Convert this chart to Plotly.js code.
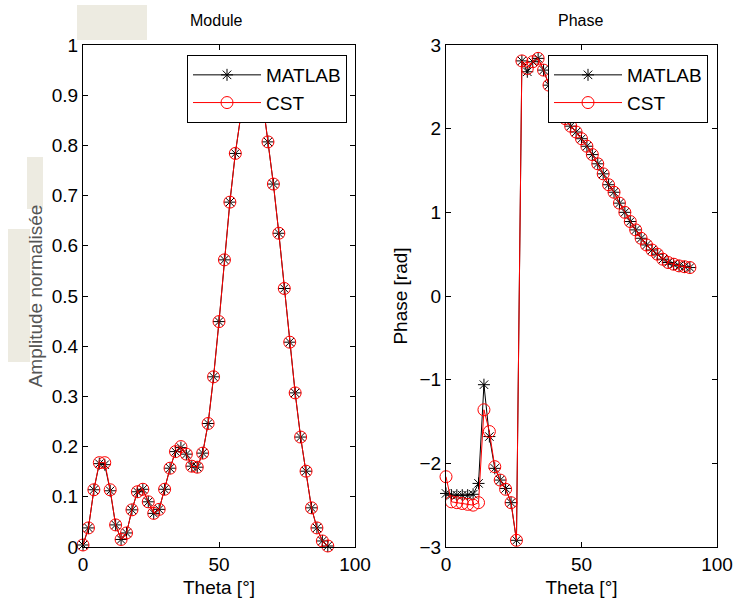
<!DOCTYPE html>
<html>
<head>
<meta charset="utf-8">
<script src="https://cdn.plot.ly/plotly-3.0.1.min.js"></script>
<style>
  html, body { margin: 0; padding: 0; background: #ffffff; }
  #chart { width: 734px; height: 601px; }
</style>
</head>
<body>
<div id="chart"></div>
<script>
// ---------------- data ----------------
const theta = [0, 2, 4, 6, 8, 10, 12, 14, 16, 18, 20, 22, 24, 26, 28, 30, 32, 34, 36, 38,
               40, 42, 44, 46, 48, 50, 52, 54, 56, 58, 60, 62, 64, 66, 68, 70, 72, 74, 76, 78,
               80, 82, 84, 86, 88, 90];

const moduleMatlab = [0.004, 0.038, 0.114, 0.166, 0.164, 0.112, 0.044, 0.015, 0.028, 0.074,
                      0.110, 0.115, 0.090, 0.067, 0.075, 0.115, 0.157, 0.190, 0.198, 0.185,
                      0.161, 0.159, 0.187, 0.246, 0.339, 0.449, 0.572, 0.687, 0.784, 0.859,
                      0.915, 0.950, 0.940, 0.890, 0.807, 0.723, 0.625, 0.515, 0.408, 0.307,
                      0.219, 0.151, 0.078, 0.038, 0.012, 0.002];

const moduleCst = [0.004, 0.038, 0.114, 0.168, 0.168, 0.114, 0.044, 0.015, 0.028, 0.074,
                   0.110, 0.115, 0.090, 0.067, 0.075, 0.115, 0.157, 0.190, 0.200, 0.185,
                   0.161, 0.159, 0.187, 0.246, 0.339, 0.449, 0.572, 0.687, 0.784, 0.859,
                   0.915, 0.950, 0.940, 0.890, 0.807, 0.723, 0.625, 0.515, 0.408, 0.307,
                   0.219, 0.151, 0.078, 0.038, 0.012, 0.002];

const phaseMatlab = [-2.36, -2.38, -2.38, -2.38, -2.38, -2.37, -2.24, -1.06, -1.68, -2.06,
                     -2.20, -2.30, -2.47, -2.92, 2.81, 2.68, 2.80, 2.84, 2.70, 2.52,
                     2.38, 2.22, 2.12, 2.03, 1.96, 1.88, 1.79, 1.69, 1.58, 1.46,
                     1.33, 1.24, 1.11, 1.00, 0.89, 0.79, 0.69, 0.61, 0.55, 0.50,
                     0.44, 0.40, 0.38, 0.36, 0.35, 0.34];

const phaseCst = [-2.16, -2.46, -2.47, -2.48, -2.49, -2.50, -2.47, -1.36, -1.62, -2.04,
                  -2.20, -2.31, -2.47, -2.92, 2.81, 2.72, 2.80, 2.84, 2.70, 2.52,
                  2.38, 2.22, 2.12, 2.03, 1.96, 1.88, 1.79, 1.69, 1.58, 1.46,
                  1.33, 1.24, 1.11, 1.00, 0.89, 0.79, 0.69, 0.61, 0.55, 0.50,
                  0.44, 0.40, 0.38, 0.36, 0.35, 0.34];

const seriesNames = ["MATLAB", "CST"];
const panelTitles = ["Module", "Phase"];
const xTitle = "Theta [°]";
const yTitles = ["Amplitude normalisée", "Phase [rad]"];

// ---------------- layout helpers ----------------
const W = 734, H = 601;
const px = v => v / W;          // pixel -> paper x
const py = v => 1 - v / H;      // pixel -> paper y
const FONT = "Liberation Sans, Arial, Helvetica, sans-serif";

const matlabStyle = {
  mode: "lines+markers",
  line: {color: "#000000", width: 1},
  marker: {symbol: "asterisk-open", size: 10, color: "#000000", line: {color: "#000000", width: 1}},
  cliponaxis: false
};
const cstStyle = {
  mode: "lines+markers",
  line: {color: "#ff0000", width: 1},
  marker: {symbol: "circle-open", size: 12, color: "#ff0000", line: {color: "#ff0000", width: 1}},
  cliponaxis: false
};

const traces = [
  Object.assign({x: theta, y: moduleMatlab, name: seriesNames[0], xaxis: "x", yaxis: "y", legend: "legend"}, matlabStyle),
  Object.assign({x: theta, y: moduleCst, name: seriesNames[1], xaxis: "x", yaxis: "y", legend: "legend"}, cstStyle),
  Object.assign({x: theta, y: phaseMatlab, name: seriesNames[0], xaxis: "x2", yaxis: "y2", legend: "legend2"}, matlabStyle),
  Object.assign({x: theta, y: phaseCst, name: seriesNames[1], xaxis: "x2", yaxis: "y2", legend: "legend2"}, cstStyle)
];

const axisCommon = {
  showline: true, linecolor: "#000000", linewidth: 1,
  mirror: "ticks", ticks: "inside", ticklen: 5, tickwidth: 1, tickcolor: "#000000",
  showgrid: false, zeroline: false,
  tickfont: {family: FONT, size: 19, color: "#000000"}
};

const yDomain = [py(547), py(45)];

const legendCommon = {
  y: py(55), yanchor: "top", xanchor: "right",
  bgcolor: "#ffffff", bordercolor: "#000000", borderwidth: 1,
  font: {family: FONT, size: 19, color: "#000000"}, tracegroupgap: 0,
  itemwidth: 68
};

const layout = {
  width: W, height: H,
  margin: {l: 0, r: 0, t: 0, b: 0},
  paper_bgcolor: "#ffffff", plot_bgcolor: "#ffffff",
  font: {family: FONT, size: 19, color: "#000000"},
  xaxis: Object.assign({}, axisCommon, {
    domain: [px(83), px(355)], range: [0, 100], tickvals: [0, 50, 100], anchor: "y",
    title: {text: xTitle, font: {family: FONT, size: 19, color: "#000000"}, standoff: 6}
  }),
  yaxis: Object.assign({}, axisCommon, {
    domain: yDomain, range: [0, 1], dtick: 0.1, tick0: 0, anchor: "x",
    title: {text: yTitles[0], font: {family: FONT, size: 19, color: "#555555"}, standoff: 4}
  }),
  xaxis2: Object.assign({}, axisCommon, {
    domain: [px(446), px(717)], range: [0, 100], tickvals: [0, 50, 100], anchor: "y2",
    title: {text: xTitle, font: {family: FONT, size: 19, color: "#000000"}, standoff: 6}
  }),
  yaxis2: Object.assign({}, axisCommon, {
    domain: yDomain, range: [-3, 3], dtick: 1, tick0: 0, anchor: "x2",
    title: {text: yTitles[1], font: {family: FONT, size: 19, color: "#000000"}, standoff: 6}
  }),
  legend: Object.assign({}, legendCommon, {x: px(347)}),
  legend2: Object.assign({}, legendCommon, {x: px(708)}),
  annotations: [
    {text: panelTitles[0], xref: "paper", yref: "paper", x: px(216), y: py(21),
     xanchor: "center", yanchor: "middle", showarrow: false,
     font: {family: FONT, size: 16, color: "#000000"}},
    {text: panelTitles[1], xref: "paper", yref: "paper", x: px(580), y: py(21),
     xanchor: "center", yanchor: "middle", showarrow: false,
     font: {family: FONT, size: 16, color: "#000000"}}
  ],
  shapes: [
    {type: "rect", xref: "paper", yref: "paper", x0: px(77), x1: px(147), y0: py(40), y1: py(5),
     fillcolor: "#edebe1", line: {width: 0}, layer: "below"},
    {type: "rect", xref: "paper", yref: "paper", x0: px(27), x1: px(43), y0: py(209), y1: py(157),
     fillcolor: "#edebe1", line: {width: 0}, layer: "below"},
    {type: "rect", xref: "paper", yref: "paper", x0: px(8), x1: px(30), y0: py(362), y1: py(229),
     fillcolor: "#edebe1", line: {width: 0}, layer: "below"}
  ]
};

Plotly.newPlot("chart", traces, layout, {staticPlot: true, displayModeBar: false});
</script>
</body>
</html>
